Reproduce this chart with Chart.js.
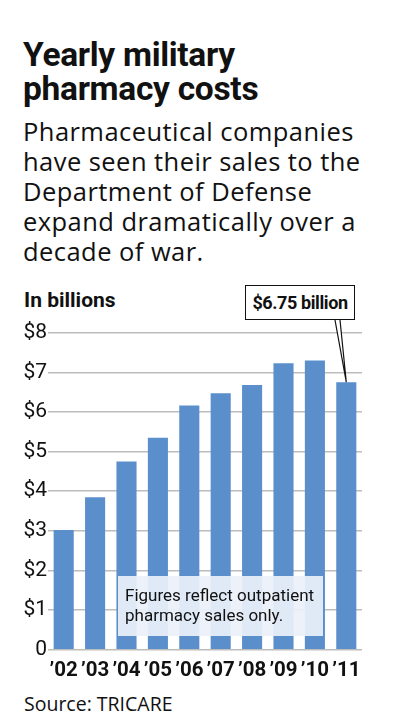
<!DOCTYPE html>
<html lang="en">
<head>
    <meta charset="UTF-8">
    <title>Yearly military pharmacy costs</title>
    <style>
        body {
            margin: 0;
            width: 399px;
            height: 725px;
            position: relative;
            background: #fff;
            overflow: hidden;
            font-family: Roboto, Arial, sans-serif;
            color: #111;
        }
        .title {
            position: absolute;
            left: 23px;
            top: 38px;
            font-size: 33.5px;
            line-height: 34px;
            font-weight: bold;
            letter-spacing: -0.3px;
        }
        .subtitle {
            position: absolute;
            left: 23px;
            top: 116px;
            font-family: "Open Sans", sans-serif;
            font-size: 25.5px;
            line-height: 30px;
            letter-spacing: 0.45px;
        }
        .unit {
            position: absolute;
            left: 24px;
            top: 288px;
            font-size: 21px;
            font-weight: bold;
        }
        .callout {
            position: absolute;
            left: 245px;
            top: 285px;
            width: 108px;
            height: 33px;
            border: 1.5px solid #111;
            background: #fff;
            font-size: 18px;
            font-weight: bold;
            letter-spacing: -0.4px;
            line-height: 33px;
            text-align: center;
            z-index: 2;
        }
        .note {
            position: absolute;
            left: 118px;
            top: 576px;
            width: 198px;
            height: 60px;
            padding-left: 7px;
            background: rgba(236, 241, 250, 0.92);
            font-size: 17px;
            line-height: 19.5px;
            box-sizing: content-box;
            z-index: 2;
        }
        .note span { display: block; padding-top: 10px; }
        .source {
            position: absolute;
            left: 24px;
            top: 690px;
            font-family: "Open Sans", sans-serif;
            font-size: 19.5px;
        }
        #wrap {
            position: absolute;
            left: 0;
            top: 280px;
            width: 399px;
            height: 420px;
        }
    </style>
    <script src="https://cdn.jsdelivr.net/npm/chart.js"></script>
</head>
<body>

<div class="title">Yearly military<br>pharmacy costs</div>
<div class="subtitle">Pharmaceutical companies<br>have seen their sales to the<br>Department of Defense<br>expand dramatically over a<br>decade of war.</div>
<div class="unit">In billions</div>
<div class="callout">$6.75 billion</div>
<div class="note"><span>Figures reflect outpatient<br>pharmacy sales only.</span></div>
<div class="source">Source: TRICARE</div>

<div id="wrap"><canvas id="costChart"></canvas></div>

<script>
    const years = ['\u201902', '\u201903', '\u201904', '\u201905', '\u201906', '\u201907', '\u201908', '\u201909', '\u201910', '\u201911'];
    const costs = [3.02, 3.85, 4.75, 5.35, 6.16, 6.47, 6.68, 7.23, 7.30, 6.75];
    const yTicks = [0, 1, 2, 3, 4, 5, 6, 7, 8];
    const calloutIndex = 9;

    // pointer from the callout box down to the top of the last bar
    const pointerPlugin = {
        id: 'pointer',
        afterDatasetsDraw(chart) {
            const ctx = chart.ctx;
            const tipX = chart.scales.x.getPixelForValue(calloutIndex);
            const tipY = chart.scales.y.getPixelForValue(costs[calloutIndex]);
            const baseY = 40;
            ctx.save();
            ctx.beginPath();
            ctx.moveTo(335, baseY);
            ctx.lineTo(tipX, tipY);
            ctx.lineTo(340, baseY);
            ctx.fillStyle = '#fff';
            ctx.fill();
            ctx.strokeStyle = '#111';
            ctx.lineWidth = 1.2;
            ctx.stroke();
            ctx.restore();
        }
    };

    new Chart(document.getElementById('costChart'), {
        type: 'bar',
        data: {
            labels: years,
            datasets: [{
                data: costs,
                backgroundColor: '#5a8fcc',
                borderWidth: 0,
                barPercentage: 0.64,
                categoryPercentage: 1
            }]
        },
        options: {
            responsive: true,
            maintainAspectRatio: false,
            animation: false,
            layout: {
                padding: { top: 52.7, right: 37, bottom: 20.3, left: 0 }
            },
            plugins: {
                legend: { display: false },
                tooltip: { enabled: false }
            },
            scales: {
                x: {
                    grid: { display: false },
                    border: { display: false },
                    afterFit: s => { s.height = 30; },
                    ticks: {
                        padding: 1,
                        color: '#111',
                        font: { family: 'Roboto', size: 20.5, weight: 'bold' },
                        maxRotation: 0,
                        autoSkip: false
                    }
                },
                y: {
                    min: 0,
                    max: 8,
                    afterFit: s => { s.width = 48; },
                    afterBuildTicks: s => { s.ticks = yTicks.map(v => ({ value: v })); },
                    border: { display: false },
                    grid: { color: '#bdbdbd', lineWidth: 1.5, drawTicks: false },
                    ticks: {
                        padding: 1,
                        color: '#111',
                        font: { family: 'Roboto', size: 21 },
                        callback: v => v === 0 ? '0' : '$' + v
                    }
                }
            }
        },
        plugins: [pointerPlugin]
    });
</script>

</body>
</html>
